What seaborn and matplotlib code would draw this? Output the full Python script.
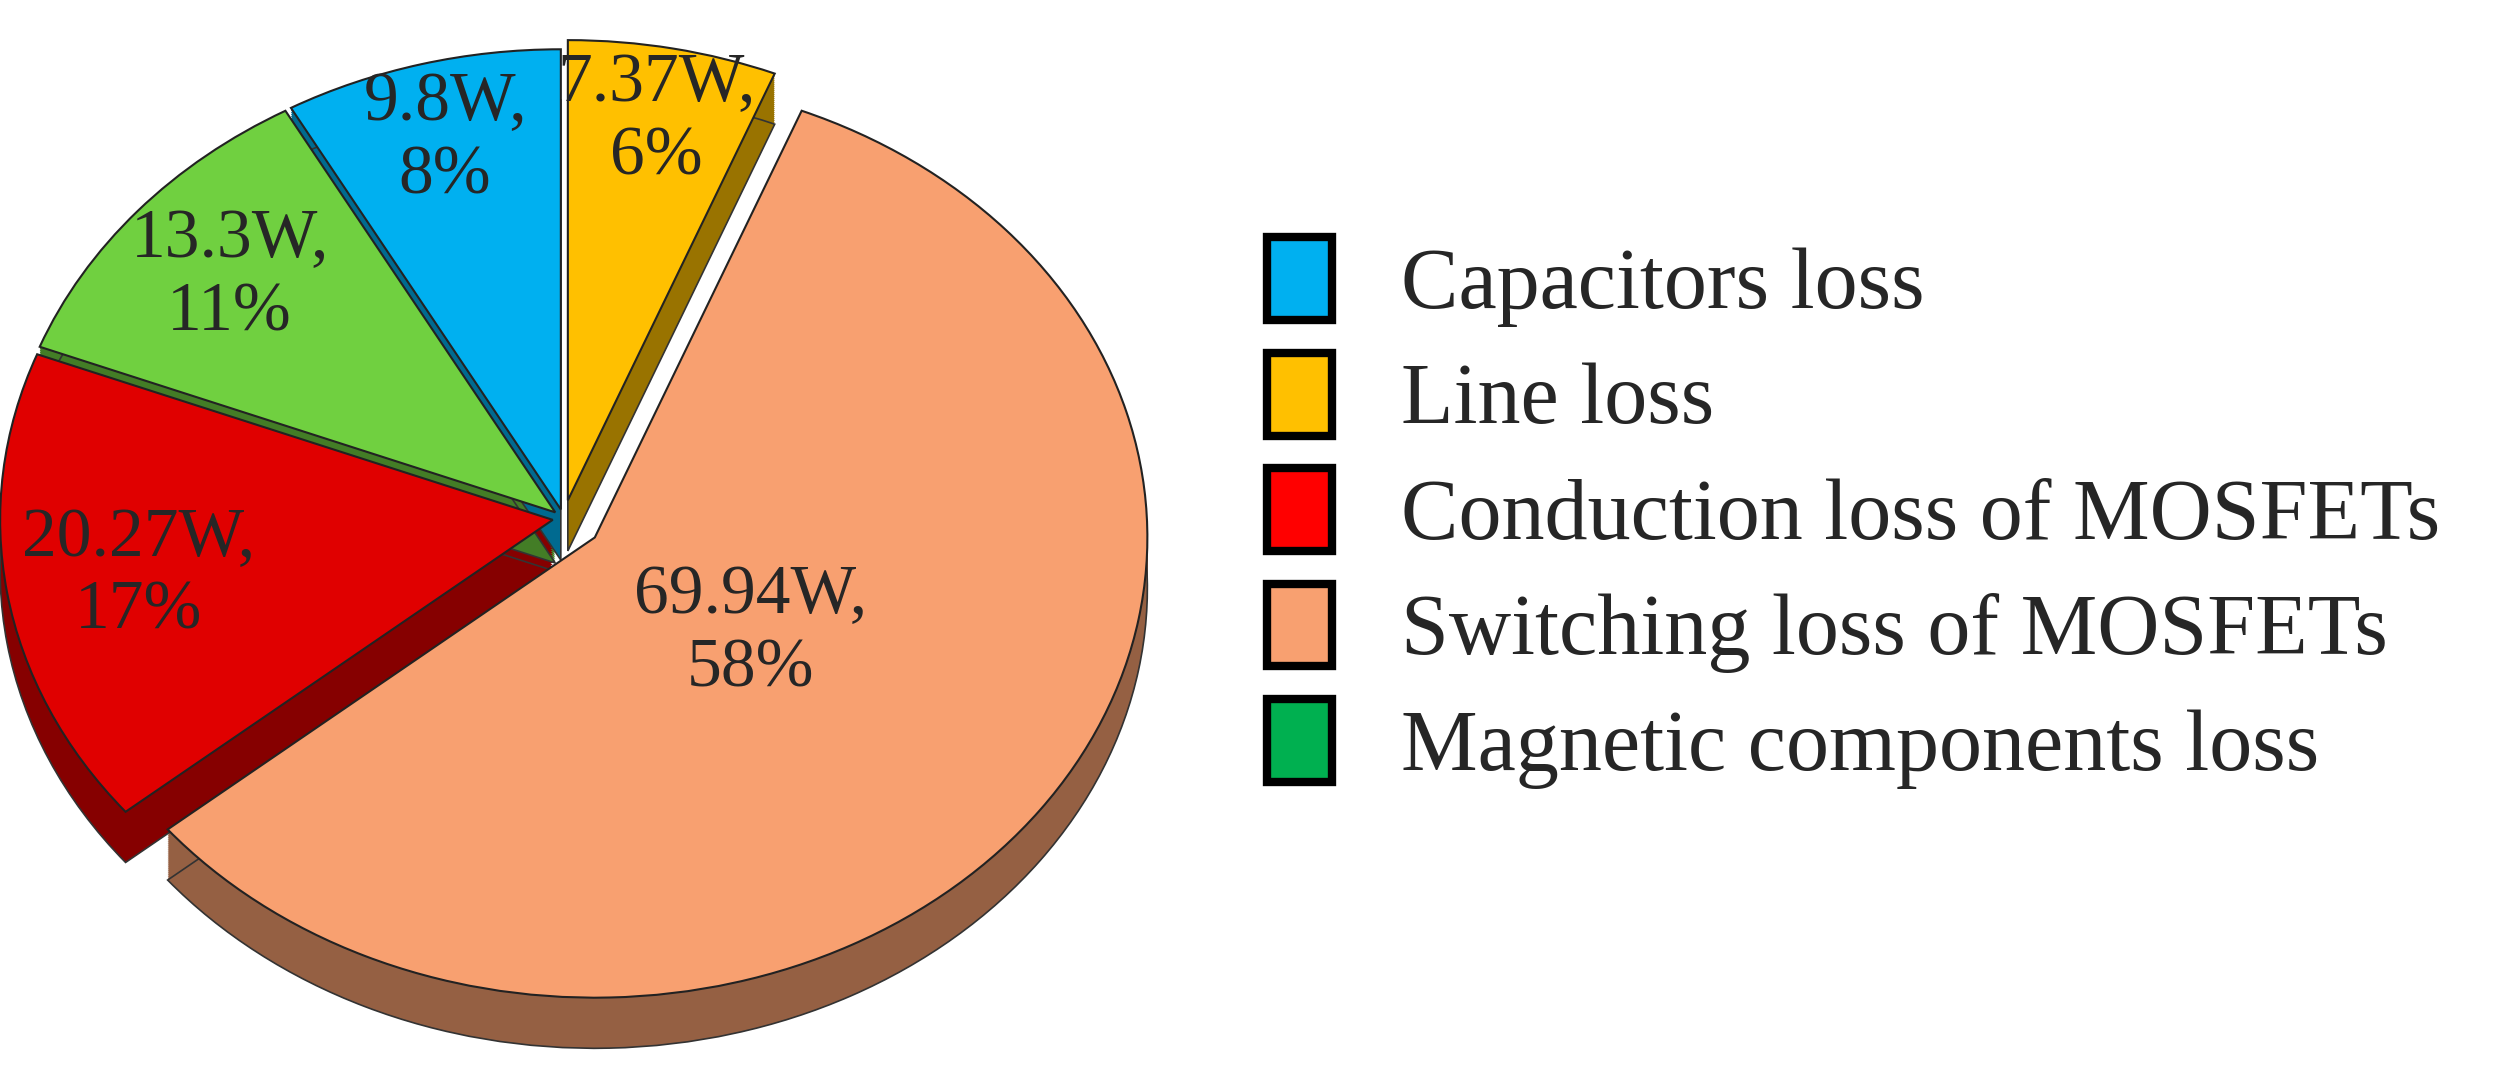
import matplotlib.pyplot as plt
import matplotlib.patches as mpatches
import matplotlib.colors as mcolors
import seaborn as sns
import numpy as np

sns.set_theme(style="white")
plt.rcParams['font.family'] = ['Liberation Serif', 'DejaVu Serif']

# pie order: clockwise from top
names = ["Line loss", "Switching loss of MOSFETs", "Conduction loss of MOSFETs",
         "Magnetic components loss", "Capacitors loss"]
watts = [7.37, 69.94, 20.27, 13.3, 9.8]
pcts = ["6%", "58%", "17%", "11%", "8%"]
pie_colors = ["#FFC000", "#F8A070", "#E00000", "#70D040", "#00B0F0"]
explode = [0.04, 0.07, 0.02, 0.02, 0.02]

legend_names = ["Capacitors loss", "Line loss", "Conduction loss of MOSFETs",
                "Switching loss of MOSFETs", "Magnetic components loss"]
legend_colors = ["#00B0F0", "#FFC000", "#FF0000", "#F8A070", "#00B050"]

labels = [f"{w:g}W,\n{p}" for w, p in zip(watts, pcts)]

fig = plt.figure(figsize=(25.05, 10.69), dpi=100)
ax = fig.add_axes([0.0, 0.02, 0.45, 0.96])

dark = [tuple(c * 0.6 for c in mcolors.to_rgb(col)) for col in pie_colors]
depth = 0.11
for d in np.linspace(depth, 0.005, 25):
    ax.pie(watts, colors=dark, explode=explode, startangle=90, counterclock=False,
           center=(0, -d), wedgeprops=dict(linewidth=0))
ax.pie(watts, colors=dark, explode=explode, startangle=90, counterclock=False,
       center=(0, -depth), wedgeprops=dict(edgecolor="#333333", linewidth=1.2))
wedges, texts = ax.pie(watts, colors=pie_colors, explode=explode, startangle=90,
                       counterclock=False, labels=labels, labeldistance=0.62,
                       wedgeprops=dict(edgecolor="#222222", linewidth=1.5),
                       textprops=dict(fontsize=50, ha="center", va="center",
                                      linespacing=1.2))
# move label radii like the reference
for t, r in zip(texts, [0.88, 0.42, 0.78, 0.8, 0.85]):
    x, y = t.get_position()
    n = np.hypot(x, y)
    t.set_position((x / n * r, y / n * r))
ax.set_aspect("auto")
ax.set_xlim(-1.02, 1.02)
ax.set_ylim(-1.15, 1.08)
ax.axis("off")

handles = [mpatches.Patch(facecolor=c, edgecolor="black", linewidth=6) for c in legend_colors]
fig.legend(handles, legend_names, loc="center left", bbox_to_anchor=(0.475, 0.52),
           frameon=False, fontsize=62, handlelength=0.75, handleheight=1.1,
           labelspacing=0.3, handletextpad=0.8)

fig.savefig("out.png", dpi=100)
